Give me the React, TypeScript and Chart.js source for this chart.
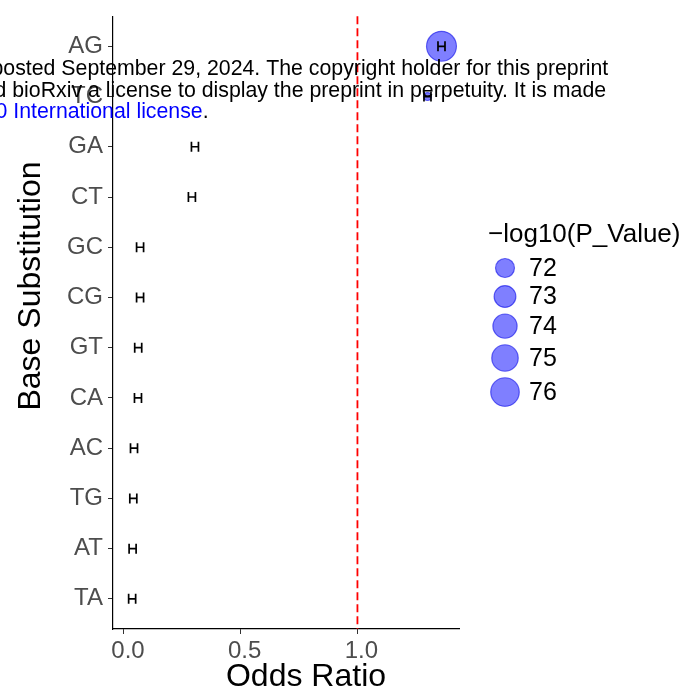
import React, { useEffect, useRef } from 'react';
import { Chart, registerables } from 'chart.js';

Chart.register(...registerables);

// ---- data ----
const categories = ['AG', 'TC', 'GA', 'CT', 'GC', 'CG', 'GT', 'CA', 'AC', 'TG', 'AT', 'TA'];
const oddsRatio = [1.36, 1.30, 0.304, 0.291, 0.069, 0.069, 0.061, 0.060, 0.043, 0.040, 0.037, 0.035];
const ciLower = [1.345, 1.285, 0.289, 0.276, 0.054, 0.054, 0.046, 0.045, 0.028, 0.025, 0.022, 0.020];
const ciUpper = [1.375, 1.315, 0.319, 0.306, 0.084, 0.084, 0.076, 0.075, 0.058, 0.055, 0.052, 0.050];
// -log10(P) values; null = outside the size scale, point not drawn
const negLog10P: (number | null)[] = [76.7, 69.4, null, null, null, null, null, null, null, null, null, null];
const legendValues = [72, 73, 74, 75, 76];
const xTickValues = [0, 0.5, 1.0];
const xTickLabels = ['0.0', '0.5', '1.0'];
const referenceOR = 1.0;

const watermarkLines = [
  { parts: [{ text: 'posted September 29, 2024. The copyright holder for this preprint', color: '#000' }], x: -8.5 },
  { parts: [{ text: 'd bioRxiv a license to display the preprint in perpetuity. It is made', color: '#000' }], x: -5.5 },
  { parts: [{ text: '0 International license', color: '#0000FF' }, { text: '.', color: '#000' }], x: -4.5 },
];

const FONT = '"Liberation Sans", Arial, Helvetica, sans-serif';
const POINT_FILL = 'rgba(0, 0, 255, 0.5)';
const POINT_EDGE = 'rgba(0, 0, 230, 0.55)';

// area-proportional size scale
function radiusFor(v: number): number {
  const a = 90 + 28.5 * (v - 72);
  return Math.sqrt(Math.max(a, 4));
}

const overlayPlugin = {
  id: 'overlay',
  beforeDatasetsDraw(chart: any) {
    const { ctx, chartArea, scales } = chart;
    const xp = scales.x.getPixelForValue(referenceOR);
    ctx.save();
    ctx.strokeStyle = '#FF0000';
    ctx.lineWidth = 1.8;
    ctx.setLineDash([8, 4]);
    ctx.beginPath();
    ctx.moveTo(xp, chartArea.top);
    ctx.lineTo(xp, chartArea.bottom);
    ctx.stroke();
    ctx.restore();
  },
  afterDatasetsDraw(chart: any) {
    const { ctx, scales } = chart;
    ctx.save();
    ctx.strokeStyle = '#000';
    ctx.lineWidth = 1.7;
    categories.forEach((_, i) => {
      const x1 = scales.x.getPixelForValue(ciLower[i]);
      const x2 = scales.x.getPixelForValue(ciUpper[i]);
      const yc = scales.y.getPixelForValue(i);
      ctx.beginPath();
      ctx.moveTo(x1, yc);
      ctx.lineTo(x2, yc);
      ctx.moveTo(x1, yc - 5);
      ctx.lineTo(x1, yc + 5);
      ctx.moveTo(x2, yc - 5);
      ctx.lineTo(x2, yc + 5);
      ctx.stroke();
    });
    ctx.restore();
  },
  afterDraw(chart: any) {
    const { ctx } = chart;
    ctx.save();
    // axis titles
    ctx.fillStyle = '#000';
    ctx.font = `32px ${FONT}`;
    ctx.textAlign = 'center';
    ctx.textBaseline = 'alphabetic';
    ctx.fillText('Odds Ratio', 306, 686);
    ctx.save();
    ctx.translate(40, 286);
    ctx.rotate(-Math.PI / 2);
    ctx.fillText('Base Substitution', 0, 0);
    ctx.restore();

    // size legend
    ctx.textAlign = 'left';
    ctx.font = `26px ${FONT}`;
    ctx.fillText('\u2212log10(P_Value)', 488, 242);
    let y = 268;
    let prevH = 0;
    legendValues.forEach((v, i) => {
      const r = radiusFor(v);
      const h = Math.max(28.5, 2 * r + 6.5);
      if (i > 0) y += (prevH + h) / 2;
      prevH = h;
      ctx.beginPath();
      ctx.arc(505, y, r, 0, Math.PI * 2);
      ctx.fillStyle = POINT_FILL;
      ctx.fill();
      ctx.strokeStyle = POINT_EDGE;
      ctx.lineWidth = 1.2;
      ctx.stroke();
      ctx.fillStyle = '#000';
      ctx.textBaseline = 'middle';
      ctx.font = `25px ${FONT}`;
      ctx.fillText(String(v), 529, y + 1);
    });

    // watermark overlay text
    ctx.font = `21.3px ${FONT}`;
    ctx.textBaseline = 'alphabetic';
    watermarkLines.forEach((line, li) => {
      let x = line.x;
      const by = 75 + li * 21.5;
      line.parts.forEach((p) => {
        ctx.fillStyle = p.color;
        ctx.fillText(p.text, x, by);
        x += ctx.measureText(p.text).width;
      });
    });
    ctx.restore();
  },
};

export default function App() {
  const ref = useRef<HTMLCanvasElement | null>(null);
  useEffect(() => {
    if (!ref.current) return;
    const points = categories
      .map((_, i) => (negLog10P[i] == null ? null : { x: oddsRatio[i], y: i, r: radiusFor(negLog10P[i] as number) }))
      .filter((p) => p !== null);
    const chart = new Chart(ref.current, {
      type: 'bubble',
      data: {
        datasets: [
          {
            label: '-log10(P_Value)',
            data: points as any,
            backgroundColor: POINT_FILL,
            borderColor: POINT_EDGE,
            borderWidth: 1.2,
          },
        ],
      },
      options: {
        responsive: false,
        animation: false,
        layout: { padding: { left: 0, right: 234, top: 9, bottom: 0 } },
        plugins: { legend: { display: false }, tooltip: { enabled: false } },
        scales: {
          x: {
            type: 'linear',
            min: -0.047,
            max: 1.435,
            afterBuildTicks: (scale: any) => {
              scale.ticks = xTickValues.map((v) => ({ value: v }));
            },
            afterFit: (scale: any) => {
              scale.height = 69;
              scale.paddingLeft = 0;
              scale.paddingRight = 0;
            },
            ticks: {
              callback: (v: any) => {
                const idx = xTickValues.indexOf(Number(v));
                return idx >= 0 ? xTickLabels[idx] : '';
              },
              color: '#4D4D4D',
              font: { family: FONT, size: 24 },
              padding: 3,
              labelOffset: 4,
              maxRotation: 0,
            },
            grid: { display: true, drawOnChartArea: false, drawTicks: true, tickLength: 5, color: '#333333', lineWidth: 1 },
            border: { display: true, color: '#000', width: 1.2 },
          },
          y: {
            type: 'linear',
            reverse: true,
            min: -0.6,
            max: categories.length - 1 + 0.6,
            afterBuildTicks: (scale: any) => {
              scale.ticks = categories.map((_, i) => ({ value: i }));
            },
            afterFit: (scale: any) => {
              scale.width = 113;
              scale.paddingTop = 0;
              scale.paddingBottom = 0;
            },
            ticks: {
              callback: (v: any) => categories[Number(v)] ?? '',
              color: '#4D4D4D',
              font: { family: FONT, size: 24 },
              padding: 5,
            },
            grid: { display: true, drawOnChartArea: false, drawTicks: true, tickLength: 5, color: '#333333', lineWidth: 1 },
            border: { display: true, color: '#000', width: 1.2 },
          },
        },
      },
      plugins: [overlayPlugin],
    });
    return () => chart.destroy();
  }, []);
  return (
    <div style={{ position: 'fixed', left: 0, top: 0, width: 693, height: 698, background: '#fff' }}>
      <canvas ref={ref} width={693} height={698} style={{ width: 693, height: 698, display: 'block' }} />
    </div>
  );
}
